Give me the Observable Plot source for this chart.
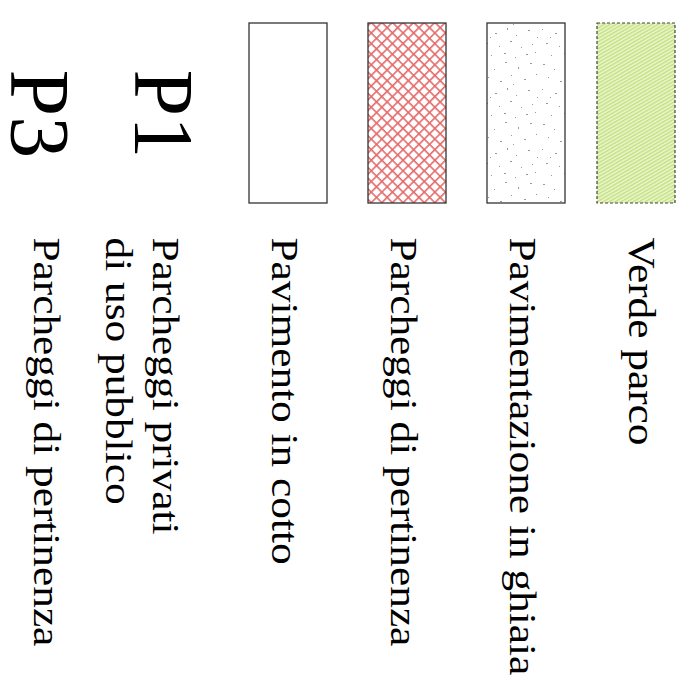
<!DOCTYPE html>
<html>
<head>
<meta charset="utf-8">
<script src="https://cdn.jsdelivr.net/npm/d3@7"></script>
<script src="https://cdn.jsdelivr.net/npm/@observablehq/plot@0.6"></script>
<style>
  html, body { margin: 0; padding: 0; background: #fff; }
  #chart svg { display: block; font-family: "Liberation Serif", "DejaVu Serif", serif; }
  #chart svg text { font-family: "Liberation Serif", "DejaVu Serif", serif; }
</style>
</head>
<body>
<div id="chart"></div>
<script>
// Legend rows (top to bottom in the original, right to left on screen)
const rows = ["verde", "ghiaia", "pertinenza1", "cotto", "p1", "p3"];
const swatchRows = ["verde", "ghiaia", "pertinenza1", "cotto"];
const swatchFills = ["url(#pat-verde)", "url(#pat-ghiaia)", "url(#pat-rosso)", "#ffffff"];
const labelRows = ["verde", "ghiaia", "pertinenza1", "cotto", "p1", "p3"];
const labels = [
  "Verde parco",
  "Pavimentazione in ghiaia",
  "Parcheggi di pertinenza",
  "Pavimento in cotto",
  "Parcheggi privati\ndi uso pubblico",
  "Parcheggi di pertinenza"
];
const codeRows = ["p1", "p3"];
const codes = ["P1", "P3"];

const swatches = swatchRows.map((row, i) => ({row, fill: swatchFills[i]}));
const labelData = labelRows.map((row, i) => ({row, text: labels[i]}));
const codeData = codeRows.map((row, i) => ({row, text: codes[i]}));

// layout (pixels along the rotated legend axis)
const L = {swatchTop: 23, swatchBottom: 203, labelStart: 237, codeStart: 69};
const serif = "Liberation Serif";

const plot = Plot.plot({
  width: 694,
  height: 688,
  margin: 0,
  style: {background: "#fff", fontFamily: serif},
  x: {type: "band", domain: rows, range: [706, -11], paddingInner: 0.347, paddingOuter: 0.1735, axis: null},
  y: {type: "linear", domain: [0, 688], range: [0, 688], axis: null},
  color: {type: "identity"},
  marks: [
    Plot.barY(swatches.filter(d => d.row === "verde"), {x: "row", y1: () => L.swatchTop, y2: () => L.swatchBottom, fill: "fill", stroke: "#444", strokeWidth: 1.2, strokeDasharray: "3,2", dx: -9}),
    Plot.barY(swatches.filter(d => d.row !== "verde"), {x: "row", y1: () => L.swatchTop, y2: () => L.swatchBottom, fill: "fill", stroke: "#333", strokeWidth: 1.3}),
    Plot.text(labelData, {x: "row", y: () => L.labelStart, text: "text", rotate: 90, textAnchor: "start", lineAnchor: "top", lineHeight: 1.24, fontSize: 38, fontFamily: serif, fill: "#000", dx: 17}),
    Plot.text(codeData.filter(d => d.row === "p1"), {x: "row", y: () => L.codeStart, text: "text", rotate: 90, textAnchor: "start", lineAnchor: "top", fontSize: 84, fontFamily: serif, fill: "#000", dx: 25}),
    Plot.text(codeData.filter(d => d.row === "p3"), {x: "row", y: () => L.codeStart, text: "text", rotate: 90, textAnchor: "start", lineAnchor: "top", fontSize: 84, fontFamily: serif, fill: "#000", dx: 20})
  ]
});

// the legend labels are set slightly wide (horizontal scaling of the source)
const textGroups = plot.querySelectorAll('g[aria-label="text"]');
if (textGroups.length) {
  textGroups[0].querySelectorAll("text").forEach(t => {
    t.setAttribute("transform", (t.getAttribute("transform") || "") + " scale(1.14,1)");
  });
}

// patterns
const defs = `
<defs>
  <pattern id="pat-verde" patternUnits="userSpaceOnUse" width="3" height="3" patternTransform="rotate(-30)">
    <rect width="3" height="3" fill="#eef7d6"/>
    <rect width="3" height="1.5" fill="#c3e07c"/>
  </pattern>
  <pattern id="pat-rosso" patternUnits="userSpaceOnUse" width="7.5" height="7.5" patternTransform="rotate(45)">
    <rect width="7.5" height="7.5" fill="#fff"/>
    <line x1="0" y1="0.8" x2="7.5" y2="0.8" stroke="#e36a6a" stroke-width="1.6"/>
    <line x1="0.8" y1="0" x2="0.8" y2="7.5" stroke="#e36a6a" stroke-width="1.6"/>
  </pattern>
  <pattern id="pat-ghiaia" patternUnits="userSpaceOnUse" width="60" height="60">
    <rect width="60" height="60" fill="#fff"/>
    <g fill="#999">
      <rect x="3" y="4" width="2" height="1"/><rect x="14" y="9" width="1" height="1"/>
      <rect x="25" y="2" width="2" height="1"/><rect x="38" y="7" width="1" height="2"/>
      <rect x="50" y="3" width="2" height="1"/><rect x="56" y="14" width="1" height="1"/>
      <rect x="8" y="17" width="1" height="1"/><rect x="20" y="21" width="2" height="1"/>
      <rect x="31" y="15" width="1" height="1"/><rect x="44" y="19" width="2" height="1"/>
      <rect x="2" y="29" width="1" height="1"/><rect x="15" y="33" width="2" height="1"/>
      <rect x="27" y="28" width="1" height="2"/><rect x="36" y="35" width="1" height="1"/>
      <rect x="48" y="30" width="2" height="1"/><rect x="57" y="37" width="1" height="1"/>
      <rect x="6" y="43" width="2" height="1"/><rect x="19" y="46" width="1" height="1"/>
      <rect x="30" y="41" width="2" height="1"/><rect x="41" y="47" width="1" height="1"/>
      <rect x="52" y="44" width="1" height="1"/><rect x="11" y="55" width="1" height="1"/>
      <rect x="24" y="53" width="2" height="1"/><rect x="35" y="57" width="1" height="1"/>
      <rect x="46" y="54" width="2" height="1"/><rect x="55" y="52" width="1" height="1"/>
      <rect x="33" y="24" width="1" height="1"/><rect x="10" y="37" width="1" height="1"/>
    </g>
  </pattern>
</defs>`;
plot.insertAdjacentHTML("afterbegin", defs);
document.getElementById("chart").appendChild(plot);
</script>
</body>
</html>
